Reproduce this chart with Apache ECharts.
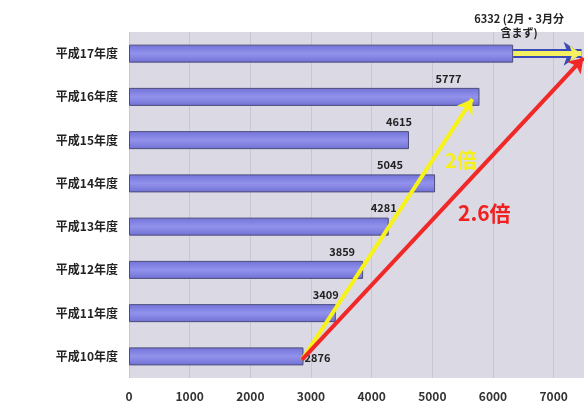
<!DOCTYPE html>
<html>
<head>
<meta charset="utf-8">
<script src="https://cdn.jsdelivr.net/npm/echarts@6/dist/echarts.min.js"></script>
<style>
  html, body { margin: 0; padding: 0; background: #fff; }
  #main { width: 584px; height: 406px; }
</style>
</head>
<body>
<div id="main"></div>
<script>
// 年度と件数（下から上へ）
var years = ['平成10年度', '平成11年度', '平成12年度', '平成13年度', '平成14年度', '平成15年度', '平成16年度', '平成17年度'];
var counts = [2876, 3409, 3859, 4281, 5045, 4615, 5777, 6332];
var xTicks = [0, 1000, 2000, 3000, 4000, 5000, 6000, 7000];

// 矢印（x = 件数, y = 年度の位置）
var arrowYellow = [[2850, -0.08], [5660, 5.95]];
var arrowRed = [[2850, -0.08], [7490, 6.9]];
var arrowExtend = [[6332, 7], [7460, 7]];

// ラベルの横ずらし（見た目合わせ）
var labelShift = [0, 3, -8, 8, -32, 3, -18, 6];

var chart = echarts.init(document.getElementById('main'));
var font = '"Noto Sans CJK JP", sans-serif';

var barData = counts.map(function (v, i) {
  var item = { value: v, label: { offset: [labelShift[i], -4] } };
  if (i === 0) {
    item.label = { position: 'right', distance: 1, offset: [0, 1], align: 'left', verticalAlign: 'middle' };
  } else if (i === counts.length - 1) {
    item.label = {
      align: 'center', offset: [labelShift[i], -5], lineHeight: 14,
      formatter: '{c} (2月・3月分\n含まず)'
    };
  }
  return item;
});

var option = {
  animation: false,
  grid: { left: 129, top: 32, right: 0, bottom: 28, show: true, backgroundColor: '#dad9e4', borderWidth: 0 },
  xAxis: {
    type: 'value', min: 0, max: 7500, interval: 1000,
    axisLine: { show: false }, axisTick: { show: false },
    splitLine: { show: true, lineStyle: { color: '#c8c6d4', width: 1 } },
    axisLabel: {
      margin: 12, color: '#333', fontWeight: 'bold', fontSize: 12, fontFamily: font,
      showMaxLabel: false,
      formatter: function (v) { return xTicks.indexOf(v) >= 0 ? String(v) : ''; }
    }
  },
  yAxis: [{
    type: 'category', data: years,
    axisLine: { show: false }, axisTick: { show: false },
    axisLabel: { margin: 11, color: '#222', fontWeight: 'bold', fontSize: 12, fontFamily: font }
  }, {
    type: 'value', min: -0.5, max: 7.5, show: false
  }],
  series: [{
    type: 'bar', data: barData, barWidth: 18,
    itemStyle: {
      color: new echarts.graphic.LinearGradient(0, 0, 0, 1, [
        { offset: 0, color: '#7272da' },
        { offset: 0.5, color: '#9292ec' },
        { offset: 1, color: '#7070d4' }
      ]),
      borderColor: '#4c4c78', borderWidth: 1
    },
    label: {
      show: true, position: ['100%', 0], align: 'right', verticalAlign: 'bottom',
      color: '#222', fontWeight: 'bold', fontSize: 11, fontFamily: font
    }
  }, {
    type: 'lines', coordinateSystem: 'cartesian2d', xAxisIndex: 0, yAxisIndex: 1,
    symbol: ['none', 'arrow'], symbolSize: 18, z: 5,
    lineStyle: { color: '#3a4ab8', width: 9, opacity: 1 },
    data: [{ coords: arrowExtend }]
  }, {
    type: 'lines', coordinateSystem: 'cartesian2d', xAxisIndex: 0, yAxisIndex: 1,
    symbol: ['none', 'arrow'], symbolSize: 12, z: 6,
    lineStyle: { color: '#f4f060', width: 5, opacity: 1 },
    data: [{ coords: arrowExtend }]
  }, {
    type: 'lines', coordinateSystem: 'cartesian2d', xAxisIndex: 0, yAxisIndex: 1,
    symbol: ['none', 'arrow'], symbolSize: 14, z: 7,
    lineStyle: { color: '#f6f21a', width: 4, opacity: 1 },
    data: [{ coords: arrowYellow }]
  }, {
    type: 'lines', coordinateSystem: 'cartesian2d', xAxisIndex: 0, yAxisIndex: 1,
    symbol: ['none', 'arrow'], symbolSize: 14, z: 8,
    lineStyle: { color: '#f02828', width: 4, opacity: 1 },
    data: [{ coords: arrowRed }]
  }],
  graphic: [{
    type: 'text', left: 445, top: 150, z: 10,
    style: { text: '2倍', fill: '#f4f018', font: 'bold 20px ' + font }
  }, {
    type: 'text', left: 458, top: 203, z: 10,
    style: { text: '2.6倍', fill: '#f02020', font: 'bold 21px ' + font }
  }]
};

chart.setOption(option);
</script>
</body>
</html>
